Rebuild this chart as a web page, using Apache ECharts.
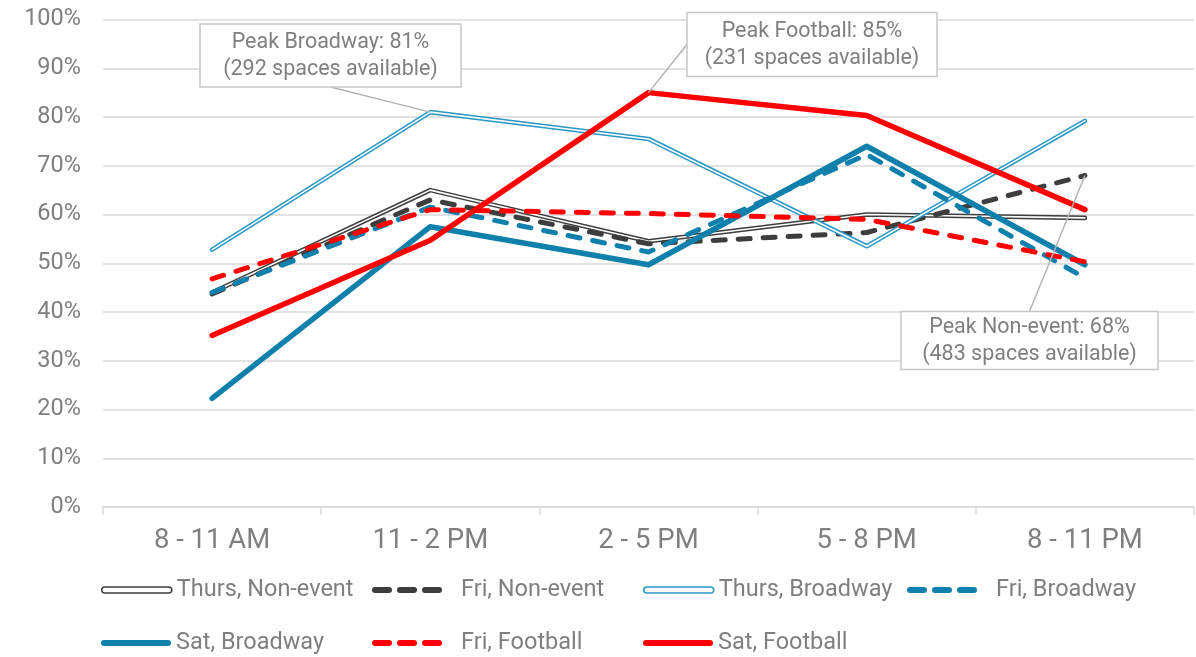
<!DOCTYPE html>
<html>
<head>
<meta charset="utf-8">
<script src="https://cdn.jsdelivr.net/npm/echarts@6/dist/echarts.min.js"></script>
<style>
  html, body { margin: 0; padding: 0; background: #fff; }
  #chart { width: 1196px; height: 657px; }
</style>
</head>
<body>
<div id="chart"></div>
<script>
// Parking occupancy by time block, percent of spaces used
const categories = ['8 - 11 AM', '11 - 2 PM', '2 - 5 PM', '5 - 8 PM', '8 - 11 PM'];
const yTicks = [0, 10, 20, 30, 40, 50, 60, 70, 80, 90, 100];

const thursNonEvent = [44, 65, 54.5, 60, 59.3];
const friNonEvent   = [43.7, 63, 54, 56.3, 68];
const thursBroadway = [52.8, 81, 75.5, 53.5, 79.2];
const friBroadway   = [44, 61.5, 52.3, 72.3, 47];
const satBroadway   = [22.3, 57.5, 49.7, 74, 49.7];
const friFootball   = [46.8, 61, 60.2, 59, 50.3];
const satFootball   = [35.2, 54.7, 85, 80.3, 61];

const spacesAvailable = { broadway: 292, football: 231, nonEvent: 483 };

const TEXT = '#7f7f7f';
const GRID = '#d9d9d9';
const FONT = 'Roboto, "Liberation Sans", Arial, sans-serif';
const DARK = '#3d3d3d';
const BLUE = '#0f7fab';
const BLUE_LIGHT = '#2996c3';
const RED = '#ff0000';

const chart = echarts.init(document.getElementById('chart'), null, { renderer: 'canvas' });

function line(name, data, color, width, dashed) {
  return {
    name, type: 'line', data,
    symbol: 'none', smooth: false, silent: true,
    lineStyle: {
      color, width,
      type: dashed ? [12, 13] : 'solid',
      cap: 'round', join: 'round'
    },
    itemStyle: { color }
  };
}
// hollow double line: a wide coloured stroke with a thin white core
function hollow(name, data, color) {
  return [
    line(name, data, color, 4.6, false),
    line(name + ' core', data, '#ffffff', 1.6, false)
  ];
}

const series = [
  ...hollow('Thurs, Non-event', thursNonEvent, DARK),
  line('Fri, Non-event', friNonEvent, DARK, 5, true),
  ...hollow('Thurs, Broadway', thursBroadway, BLUE_LIGHT),
  line('Fri, Broadway', friBroadway, BLUE, 5, true),
  line('Sat, Broadway', satBroadway, BLUE, 5.5, false),
  line('Fri, Football', friFootball, RED, 5, true),
  line('Sat, Football', satFootball, RED, 5.5, false)
];

// legend icons, 70 x 6
const ICON_BAR = 'path://M3,0H67A3,3,0,0,1,67,6H3A3,3,0,0,1,3,0Z';
const ICON_DASH = 'path://M3,0H17A3,3,0,0,1,17,6H3A3,3,0,0,1,3,0Z' +
  'M28,0H42A3,3,0,0,1,42,6H28A3,3,0,0,1,28,0Z' +
  'M53,0H67A3,3,0,0,1,67,6H53A3,3,0,0,1,53,0Z';

const legendItems = [
  { name: 'Thurs, Non-event', icon: ICON_BAR, style: { color: '#fff', borderColor: DARK, borderWidth: 1.5 }, left: 101, top: 576 },
  { name: 'Fri, Non-event',   icon: ICON_DASH, style: { color: DARK }, left: 372, top: 576 },
  { name: 'Thurs, Broadway',  icon: ICON_BAR, style: { color: '#fff', borderColor: BLUE_LIGHT, borderWidth: 1.5 }, left: 643, top: 576 },
  { name: 'Fri, Broadway',    icon: ICON_DASH, style: { color: BLUE }, left: 907, top: 576 },
  { name: 'Sat, Broadway',    icon: ICON_BAR, style: { color: BLUE }, left: 101, top: 629 },
  { name: 'Fri, Football',    icon: ICON_DASH, style: { color: RED }, left: 372, top: 629 },
  { name: 'Sat, Football',    icon: ICON_BAR, style: { color: RED }, left: 643, top: 629 }
];

const legends = legendItems.map(it => ({
  left: it.left, top: it.top, padding: 0,
  itemWidth: 70, itemHeight: 6, itemGap: 0,
  symbolKeepAspect: false,
  selectedMode: false,
  textStyle: {
    color: TEXT, fontSize: 23.5, fontFamily: FONT, lineHeight: 28,
    padding: it.icon === ICON_DASH ? [0, 0, 0, 14] : 0
  },
  data: [{ name: it.name, icon: it.icon, itemStyle: it.style }]
}));

chart.setOption({
  animation: false,
  backgroundColor: '#ffffff',
  textStyle: { fontFamily: FONT },
  grid: { left: 103, right: 2, top: 19.5, bottom: 150, containLabel: false },
  legend: legends,
  xAxis: {
    type: 'category',
    data: categories,
    boundaryGap: true,
    axisLine: { show: true, lineStyle: { color: GRID, width: 1.5 } },
    axisTick: { show: true, alignWithLabel: false, length: 8, lineStyle: { color: GRID, width: 1.5 } },
    axisLabel: { color: TEXT, fontSize: 27.5, fontFamily: FONT, margin: 20 },
    splitLine: { show: false }
  },
  yAxis: {
    type: 'value',
    min: yTicks[0], max: yTicks[yTicks.length - 1], interval: 10,
    axisLine: { show: false },
    axisTick: { show: false },
    axisLabel: { color: TEXT, fontSize: 23.5, fontFamily: FONT, margin: 22, formatter: '{value}%' },
    splitLine: { lineStyle: { color: GRID, width: 1.5 } }
  },
  series
});

// Callout boxes with leader lines pointing at each peak
const callouts = [
  { text: `Peak Broadway: ${thursBroadway[1]}%\n(${spacesAvailable.broadway} spaces available)`,
    point: [1, thursBroadway[1]], box: { x: 200, y: 24, w: 261, h: 63 }, anchor: 'bottom' },
  { text: `Peak Football: ${satFootball[2]}%\n(${spacesAvailable.football} spaces available)`,
    point: [2, satFootball[2]], box: { x: 687, y: 12.5, w: 250, h: 64 }, anchor: 'left' },
  { text: `Peak Non-event: ${friNonEvent[4]}%\n(${spacesAvailable.nonEvent} spaces available)`,
    point: [4, friNonEvent[4]], box: { x: 901, y: 311.5, w: 257, h: 58 }, anchor: 'top' }
];

const graphics = [];
callouts.forEach(c => {
  const p = chart.convertToPixel({ gridIndex: 0 }, c.point);
  const b = c.box;
  let a;
  if (c.anchor === 'bottom') a = [b.x + b.w / 2, b.y + b.h];
  else if (c.anchor === 'top') a = [b.x + b.w / 2, b.y];
  else a = [b.x, b.y + b.h / 2];
  graphics.push({
    type: 'line', silent: true, z: 90,
    shape: { x1: a[0], y1: a[1], x2: p[0], y2: p[1] },
    style: { stroke: '#b3b3b3', lineWidth: 1.5 }
  });
  graphics.push({
    type: 'rect', silent: true, z: 100,
    shape: { x: b.x, y: b.y, width: b.w, height: b.h },
    style: { fill: '#ffffff', stroke: '#c6c6c6', lineWidth: 1.5 }
  });
  graphics.push({
    type: 'text', silent: true, z: 101,
    x: b.x + b.w / 2, y: b.y + b.h / 2 + 1,
    style: {
      text: c.text, fill: TEXT, fontSize: 21.5, fontFamily: FONT,
      lineHeight: 27, align: 'center', verticalAlign: 'middle'
    }
  });
});

chart.setOption({ graphic: graphics });
</script>
</body>
</html>
